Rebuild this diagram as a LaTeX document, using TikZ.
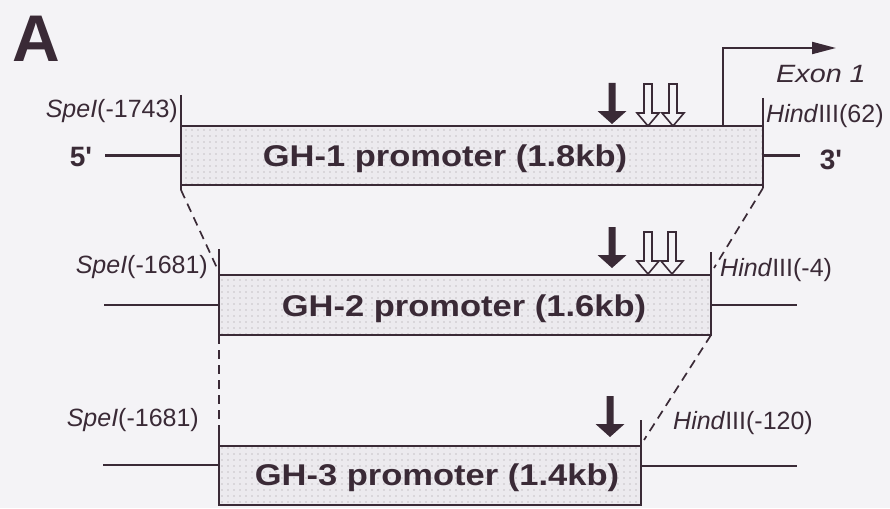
\documentclass[tikz,border=0pt]{standalone}
\usepackage{fontspec}
\usepackage{graphicx}
\setmainfont{Liberation Sans}
\usetikzlibrary{patterns.meta,arrows.meta}
\definecolor{ink}{RGB}{58,42,54}
\definecolor{paper}{RGB}{244,243,246}
\definecolor{boxfill}{RGB}{236,234,238}
\newcommand\boxfont{\fontsize{30}{36}\selectfont\bfseries}
\newcommand\labfont{\fontsize{25}{30}\selectfont}
\newcommand\primefont{\fontsize{28}{32}\selectfont\bfseries}
\newcommand\stretchtext[1]{\scalebox{1.15}[1]{#1}}
\newcommand\solidarr[2]{\fill[ink] ({#1-3.5},{#2-41}) -- ({#1+3.5},{#2-41}) -- ({#1+3.5},{#2-13}) -- ({#1+14.5},{#2-13}) -- (#1,#2) -- ({#1-14.5},{#2-13}) -- ({#1-3.5},{#2-13}) -- cycle;}
\newcommand\openarr[2]{\filldraw[draw=ink, fill=paper, line width=1.6pt, line join=miter] ({#1-4},{#2-42}) -- ({#1+4},{#2-42}) -- ({#1+4},{#2-13}) -- ({#1+11},{#2-13}) -- (#1,#2) -- ({#1-11},{#2-13}) -- ({#1-4},{#2-13}) -- cycle;}
\tikzset{
  promobox/.style={draw=ink, line width=2.5pt, preaction={fill=boxfill},
    pattern={Dots[distance=6pt,radius=0.7pt]}, pattern color=ink!50,
    inner sep=0pt, outer sep=0pt, anchor=north west},
  boxtext/.style={font=\boxfont, text=ink, anchor=base, inner sep=0pt},
  lab/.style={font=\labfont, text=ink, inner sep=0pt},
  primelab/.style={font=\primefont, text=ink, inner sep=0pt},
  dna/.style={draw=ink, line width=2.5pt},
  tickline/.style={draw=ink, line width=2pt},
  guide/.style={draw=ink, line width=1.7pt, dash pattern=on 9pt off 6pt},
}
\begin{document}
\begin{tikzpicture}[x=1pt,y=-1pt]
\fill[paper] (0,0) rectangle (890,508);
\useasboundingbox (0,0) rectangle (890,508);

% panel letter
\node[font=\fontsize{66}{70}\selectfont\bfseries, text=ink, inner sep=0pt] (panel) at (36,39) {A};

% boxes
\node[promobox, minimum width=582pt, minimum height=59pt] (b1) at (181,126) {};
\node[promobox, minimum width=492pt, minimum height=60pt] (b2) at (219,275) {};
\node[promobox, minimum width=422pt, minimum height=59pt] (b3) at (219,446) {};

\node[boxtext] (t1) at (445,166) {\stretchtext{GH-1 promoter (1.8kb)}};
\node[boxtext] (t2) at (464,316) {\stretchtext{GH-2 promoter (1.6kb)}};
\node[boxtext] (t3) at (437,485) {\stretchtext{GH-3 promoter (1.4kb)}};

% flanking DNA lines
\coordinate (l1) at (105,155.5);
\coordinate (r1) at (800,155.5);
\draw[dna] (l1) -- (b1.west);
\draw[dna] (b1.east) -- (r1);
\coordinate (l2) at (104,305);
\coordinate (r2) at (797,305);
\draw[dna] (l2) -- (b2.west);
\draw[dna] (b2.east) -- (r2);
\coordinate (l3) at (103,465);
\coordinate (r3) at (797,466);
\draw[dna] (l3) -- (l3 -| b3.west);
\draw[dna] (r3 -| b3.east) -- (r3);

% restriction site ticks
\coordinate (s1top) at (181,95);
\coordinate (s1bot) at (181,190);
\draw[tickline] (s1top) -- (s1bot);
\coordinate (h1top) at (763,98);
\coordinate (h1bot) at (763,188);
\draw[tickline] (h1top) -- (h1bot);
\coordinate (s2top) at (219,249);
\draw[tickline] (s2top) -- (b2.north west);
\coordinate (h2top) at (711,252);
\draw[tickline] (h2top) -- (b2.north east);
\coordinate (s3top) at (219,425);
\draw[tickline] (s3top) -- (b3.north west);
\coordinate (h3top) at (641,420);
\draw[tickline] (h3top) -- (b3.north east);

% dashed guide lines
\coordinate (d1) at (217,268);
\coordinate (d2) at (714,268);
\coordinate (d3) at (219,428);
\coordinate (d4) at (644,440);
\draw[guide] (s1bot) -- (d1);
\draw[guide] (h1bot) -- (d2);
\draw[guide] (b2.south west) -- (d3);
\draw[guide] (b2.south east) -- (d4);

% transcription start arrow
\coordinate (tss0) at (723,126);
\coordinate (tss1) at (723,48);
\coordinate (tss2) at (836,48);
\draw[ink, line width=2pt, -{Triangle[length=24pt,width=12pt]}] (tss0) -- (tss1) -- (tss2);
\node[lab, anchor=west, font=\labfont\itshape] (exon) at (776,74) {\stretchtext{Exon 1}};

% labels
\node[lab, anchor=east] (sp1) at (178,111) {\textit{SpeI}(-1743)};
\node[lab, anchor=west] (hd1) at (766,116) {\textit{Hind}III(62)};
\node[lab, anchor=east] (sp2) at (208,267) {\textit{SpeI}(-1681)};
\node[lab, anchor=west] (hd2) at (720,270) {\textit{Hind}III(-4)};
\node[lab, anchor=east] (sp3) at (199,420) {\textit{SpeI}(-1681)};
\node[lab, anchor=west] (hd3) at (673,423) {\textit{Hind}III(-120)};
\node[primelab] (five) at (81,157) {5\textquotesingle};
\node[primelab] (three) at (831,160) {3\textquotesingle};

% binding-site arrows
\solidarr{612}{124}
\openarr{648}{126}
\openarr{673}{126}
\solidarr{612}{268}
\openarr{648}{274}
\openarr{672}{274}
\solidarr{610}{437}
\end{tikzpicture}
\end{document}
